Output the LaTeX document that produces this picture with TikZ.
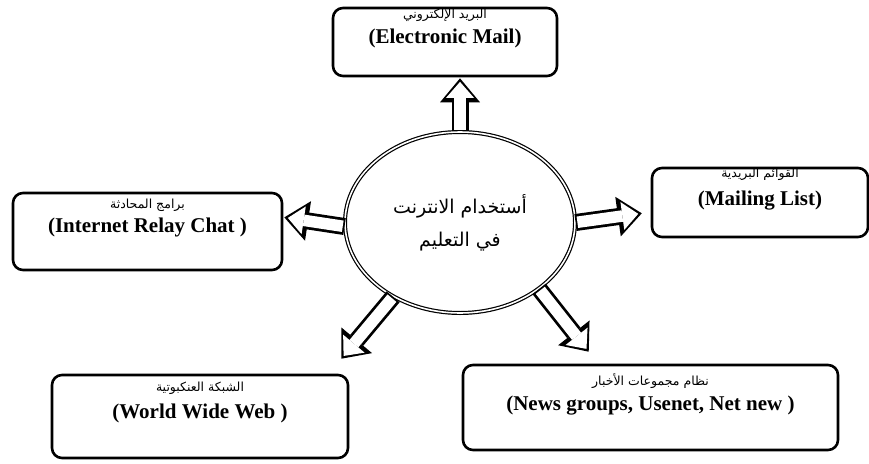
\documentclass[tikz,border=0pt]{standalone}
\usepackage{fontspec}
\setmainfont{Liberation Serif}
\newfontfamily\arabicfont[Script=Arabic]{DejaVu Sans}
\TeXXeTstate=1
\usetikzlibrary{arrows.meta,calc,shapes.geometric}

\begin{document}
\begin{tikzpicture}[x=1pt, y=-1pt,
    box/.style={draw=black, line width=2.6pt, rounded corners=10pt,
                fill=white, inner sep=0pt},
    hubshape/.style={ellipse, draw=black, double, double distance=1.6pt,
                line width=1.2pt, fill=white, inner sep=0pt, align=center,
                font=\arabicfont\fontsize{19}{33}\selectfont},
    ar/.style={font=\arabicfont\fontsize{12.5}{14}\selectfont, inner sep=0pt},
    en/.style={font=\bfseries\fontsize{21}{24}\selectfont, inner sep=0pt},
    fatarrow/.style={draw=black, line width=17pt, shorten >=#1,
                -{Triangle[length=24pt,width=40pt,line width=0pt]},
                postaction={draw=white, line width=11.5pt, shorten <=1.8pt,
                    shorten >=#1+3.6pt,
                    -{Triangle[length=16pt,width=28pt,line width=0pt]}}}
]
\useasboundingbox (0,0) rectangle (869,463);

\node[hubshape, minimum width=230pt, minimum height=181pt] (hub) at (460,222.5)
    {\beginR أستخدام الانترنت\endR\\\beginR في التعليم\endR};

\node[box, minimum width=224pt, minimum height=68pt] (mail) at (445,42) {};
\node[ar] (mailar) at ($(mail.north)+(0,9)$) {\beginR البريد الإلكتروني\endR};
\node[en] (mailen) at ($(mail.north)+(0,32)$) {(Electronic Mail)};

\node[box, minimum width=216pt, minimum height=69pt] (mailing) at (760,202.5) {};
\node[ar] (mailingar) at ($(mailing.north)+(0,8)$) {\beginR القوائم البريدية\endR};
\node[en] (mailingen) at ($(mailing.north)+(0,34)$) {(Mailing List)};

\node[box, minimum width=269pt, minimum height=77pt] (chat) at (147.5,231.5) {};
\node[ar] (chatar) at ($(chat.north)+(0,14)$) {\beginR برامج المحادثة\endR};
\node[en] (chaten) at ($(chat.north)+(0,36)$) {(Internet Relay Chat )};

\node[box, minimum width=296pt, minimum height=83pt] (www) at (200,416.5) {};
\node[ar] (wwwar) at ($(www.north)+(0,15)$) {\beginR الشبكة العنكبوتية\endR};
\node[en] (wwwen) at ($(www.north)+(0,40)$) {(World Wide Web )};

\node[box, minimum width=375pt, minimum height=85pt] (news) at (650.5,407.5) {};
\node[ar] (newsar) at ($(news.north)+(0,17)$) {\beginR نظام مجموعات الأخبار\endR};
\node[en] (newsen) at ($(news.north)+(0,42)$) {(News groups, Usenet, Net new )};

\coordinate (wwwtip) at ($(www.north east)+(-8,-15)$);
\coordinate (newstip) at ($(news.north west)+(127,-12)$);

\draw[fatarrow=1pt] (hub.north) -- (hub.north |- mail.south);
\draw[fatarrow=9pt] (hub.east) -- (mailing.185);
\draw[fatarrow=1pt] (hub.182) -- (chat.6);
\draw[fatarrow=0pt] (hub.228) -- (wwwtip);
\draw[fatarrow=0pt] (hub.320) -- (newstip);
\end{tikzpicture}
\end{document}
